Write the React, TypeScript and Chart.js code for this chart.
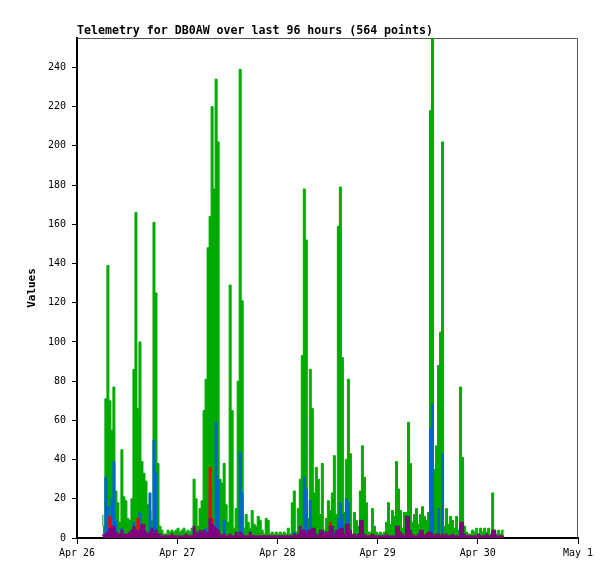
import { useEffect, useRef } from "react";
import { Chart, registerables } from "chart.js";

Chart.register(...registerables);

const chartTitle = "Telemetry for DB0AW over last 96 hours (564 points)";
const yAxisTitle = "Values";
const dayLabels = ["Apr 26", "Apr 27", "Apr 28", "Apr 29", "Apr 30", "May 1"];

// sample times: hours after Apr 26 00:00
const startHour = 6.2;
const stepHours = 0.48;

const greenValues = [
  12, 6, 71, 139, 70, 55, 77, 24, 18, 8,
  45, 21, 19, 10, 9, 20, 86, 166, 66, 100,
  39, 33, 29, 17, 14, 9, 161, 125, 38, 6,
  4, 2, 2, 4, 3, 4, 3, 4, 5, 3,
  4, 5, 3, 4, 3, 5, 30, 20, 6, 15,
  19, 65, 81, 148, 164, 220, 178, 234, 202, 30,
  28, 38, 17, 8, 129, 65, 5, 15, 80, 239,
  121, 5, 12, 8, 5, 14, 7, 6, 11, 9,
  4, 2, 10, 9, 2, 3, 2, 3, 2, 3,
  2, 3, 2, 5, 2, 18, 24, 3, 15, 30,
  93, 178, 152, 10, 86, 66, 23, 36, 30, 12,
  38, 4, 10, 19, 14, 23, 42, 12, 159, 179,
  92, 13, 40, 81, 43, 2, 13, 9, 6, 24,
  47, 31, 18, 3, 3, 15, 6, 3, 2, 3,
  2, 3, 8, 18, 7, 14, 11, 39, 25, 14,
  5, 13, 13, 59, 38, 8, 12, 15, 7, 12,
  16, 11, 9, 13, 218, 255, 35, 47, 88, 105,
  202, 6, 15, 7, 11, 9, 5, 11, 4, 77,
  41, 6, 3, 2, 2, 4, 3, 5, 2, 5,
  3, 5, 3, 5, 2, 23, 4, 2, 4, 2,
  4,
];

const blueValues = [
  1, 1, 31, 16, 1, 20, 39, 9, 1, 1,
  5, 1, 1, 1, 1, 1, 8, 1, 1, 13,
  1, 1, 1, 1, 23, 1, 50, 33, 1, 1,
  1, 1, 1, 1, 1, 1, 1, 1, 1, 1,
  1, 1, 1, 1, 1, 1, 1, 1, 1, 1,
  1, 1, 5, 1, 25, 1, 1, 59, 30, 1,
  1, 9, 1, 1, 1, 1, 1, 1, 1, 44,
  23, 1, 1, 1, 1, 1, 1, 1, 1, 1,
  1, 1, 1, 1, 1, 1, 1, 1, 1, 1,
  1, 1, 1, 1, 1, 1, 3, 1, 1, 1,
  1, 31, 25, 1, 19, 1, 1, 1, 1, 1,
  1, 1, 1, 1, 1, 1, 1, 1, 10, 18,
  12, 1, 20, 18, 1, 1, 1, 1, 1, 1,
  1, 1, 1, 1, 1, 1, 1, 1, 1, 1,
  1, 1, 1, 1, 1, 1, 1, 1, 1, 1,
  1, 1, 1, 1, 1, 1, 1, 1, 1, 1,
  1, 1, 1, 1, 56, 68, 1, 1, 15, 1,
  43, 1, 1, 1, 1, 1, 1, 1, 1, 1,
  1, 1, 1, 1, 1, 1, 1, 1, 1, 1,
  1, 1, 1, 1, 1, 1, 1, 1, 1, 1,
  1,
];

const redValues = [
  1, 1, 1, 1, 11, 1, 1, 1, 1, 1,
  1, 1, 1, 1, 1, 1, 1, 1, 10, 1,
  1, 1, 1, 1, 1, 1, 1, 1, 1, 1,
  1, 1, 1, 1, 1, 1, 1, 1, 1, 1,
  1, 1, 1, 1, 1, 1, 1, 1, 1, 1,
  1, 1, 1, 1, 36, 10, 1, 1, 1, 1,
  1, 1, 1, 1, 1, 1, 1, 1, 1, 1,
  1, 1, 1, 1, 1, 1, 1, 1, 1, 1,
  1, 1, 1, 1, 1, 1, 1, 1, 1, 1,
  1, 1, 1, 1, 1, 1, 1, 1, 1, 1,
  1, 1, 1, 1, 1, 1, 1, 1, 1, 1,
  1, 1, 1, 1, 8, 1, 1, 1, 1, 1,
  1, 1, 1, 1, 1, 1, 1, 1, 1, 1,
  1, 1, 1, 1, 1, 1, 1, 1, 1, 1,
  1, 1, 1, 1, 1, 1, 1, 1, 1, 1,
  1, 1, 1, 1, 1, 1, 1, 1, 1, 1,
  1, 1, 1, 1, 1, 1, 1, 1, 1, 1,
  1, 1, 1, 1, 1, 1, 1, 1, 1, 1,
  1, 1, 1, 1, 1, 1, 1, 1, 1, 1,
  1, 1, 1, 1, 1, 1, 1, 1, 1, 1,
  1,
];

const purpleValues = [
  2, 1, 2, 3, 5, 6, 6, 3, 2, 2,
  4, 2, 2, 2, 3, 4, 6, 4, 4, 4,
  7, 7, 3, 2, 3, 5, 2, 4, 2, 2,
  1, 1, 1, 1, 1, 2, 1, 1, 1, 1,
  1, 1, 2, 1, 1, 1, 6, 3, 2, 4,
  3, 4, 2, 3, 10, 7, 6, 5, 4, 2,
  1, 2, 1, 1, 2, 1, 1, 3, 1, 3,
  2, 1, 1, 1, 3, 1, 1, 1, 1, 1,
  1, 1, 1, 1, 1, 1, 1, 1, 1, 1,
  1, 1, 1, 1, 1, 1, 2, 1, 2, 6,
  4, 4, 2, 4, 4, 5, 5, 2, 1, 4,
  4, 2, 3, 3, 6, 6, 2, 4, 4, 5,
  5, 2, 7, 7, 4, 1, 2, 1, 2, 9,
  9, 2, 1, 1, 1, 2, 1, 1, 1, 1,
  1, 1, 2, 1, 1, 1, 1, 6, 6, 3,
  2, 1, 11, 11, 4, 2, 1, 1, 2, 4,
  4, 1, 2, 3, 3, 2, 1, 2, 2, 1,
  2, 1, 2, 1, 1, 2, 1, 1, 1, 8,
  8, 2, 1, 1, 1, 1, 1, 1, 2, 1,
  1, 1, 2, 1, 1, 4, 4, 1, 1, 1,
  1,
];

const FONT = "'DejaVu Sans Mono', 'Liberation Mono', monospace";

export default function App() {
  const ref = useRef<HTMLCanvasElement | null>(null);

  useEffect(() => {
    if (!ref.current) return;
    const toPoints = (arr: number[]) =>
      arr.map((v, i) => ({ x: startHour + i * stepHours, y: v }));

    const decor = {
      id: "decor",
      beforeDatasetsDraw(chart: any) {
        const { ctx, chartArea: a } = chart;
        ctx.save();
        ctx.strokeStyle = "#555555";
        ctx.lineWidth = 1;
        ctx.beginPath();
        ctx.moveTo(a.left, a.top + 0.5);
        ctx.lineTo(a.right - 0.5, a.top + 0.5);
        ctx.lineTo(a.right - 0.5, a.bottom);
        ctx.stroke();
        ctx.restore();
      },
      afterDraw(chart: any) {
        const { ctx, chartArea: a } = chart;
        ctx.save();
        ctx.fillStyle = "#000";
        ctx.font = `bold 11.6px ${FONT}`;
        ctx.textAlign = "left";
        ctx.textBaseline = "alphabetic";
        ctx.fillText(chartTitle, a.left, a.top - 4);
        ctx.translate(32, (a.top + a.bottom) / 2);
        ctx.rotate(-Math.PI / 2);
        ctx.textAlign = "center";
        ctx.textBaseline = "middle";
        ctx.font = `bold 11px ${FONT}`;
        ctx.fillText(yAxisTitle, 0, 0);
        ctx.restore();
      },
    };

    const ds = (data: number[], color: string, order: number) => ({
      data: toPoints(data),
      borderColor: color,
      backgroundColor: color,
      borderWidth: 1,
      pointRadius: 0,
      stepped: "after" as const,
      fill: "origin" as const,
      order,
    });

    const chart = new Chart(ref.current, {
      type: "line",
      data: {
        datasets: [
          ds(greenValues, "#00aa00", 4),
          ds(blueValues, "#0066cc", 3),
          ds(redValues, "#ff0000", 2),
          ds(purpleValues, "#800080", 1),
        ],
      },
      options: {
        responsive: false,
        animation: false,
        layout: { padding: { left: 0, right: 37, top: 38, bottom: 0 } },
        plugins: {
          legend: { display: false },
          tooltip: { enabled: false },
          title: { display: false },
        },
        scales: {
          x: {
            type: "linear",
            min: 0,
            max: 120,
            afterFit(scale: any) {
              scale.height = 41;
            },
            ticks: {
              stepSize: 24,
              autoSkip: false,
              maxRotation: 0,
              color: "#000",
              padding: 3,
              font: { family: FONT, size: 10 },
              callback: (v: any) => dayLabels[Math.round(Number(v) / 24)] ?? "",
            },
            grid: {
              drawOnChartArea: false,
              drawTicks: true,
              tickLength: 6,
              tickColor: "#000",
              tickWidth: 1,
            },
            border: { display: true, color: "#000", width: 2 },
          },
          y: {
            type: "linear",
            min: 0,
            max: 255,
            afterFit(scale: any) {
              scale.width = 77;
            },
            ticks: {
              stepSize: 20,
              includeBounds: false,
              color: "#000",
              padding: 6,
              font: { family: FONT, size: 10 },
            },
            grid: {
              drawOnChartArea: false,
              drawTicks: true,
              tickLength: 5,
              tickColor: "#000",
              tickWidth: 1,
            },
            border: { display: true, color: "#000", width: 2 },
          },
        },
      },
      plugins: [decor],
    });

    return () => chart.destroy();
  }, []);

  return (
    <div
      style={{
        position: "fixed",
        left: 0,
        top: 0,
        width: 615,
        height: 579,
        background: "#fff",
      }}
    >
      <canvas
        ref={ref}
        width={615}
        height={579}
        style={{ display: "block", width: 615, height: 579 }}
      />
    </div>
  );
}
